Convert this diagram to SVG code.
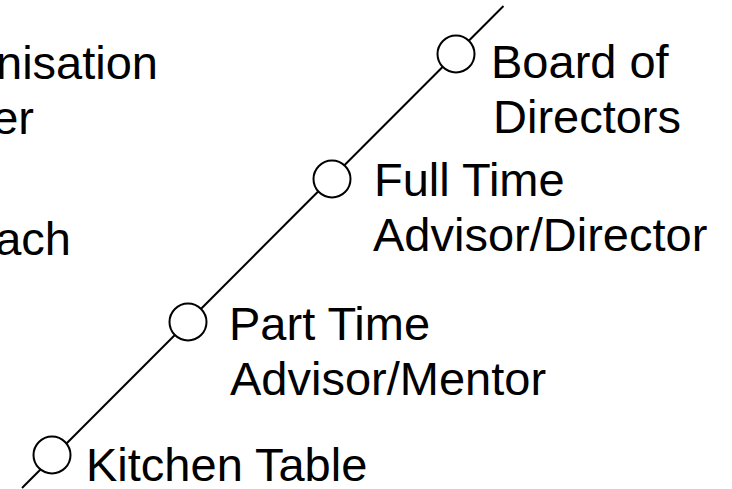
<svg xmlns="http://www.w3.org/2000/svg" width="732" height="489" viewBox="0 0 732 489">
<style>
.t{font-family:"Liberation Sans",Arial,sans-serif;font-size:47px;fill:#000}
.e{text-anchor:end}
.c{fill:#fff;stroke:#000;stroke-width:2}
.l{stroke:#000;stroke-width:2;fill:none}
</style>
<rect width="732" height="489" fill="#fff"/>
<g id="connectors">
<line class="l" x1="503.5" y1="6" x2="22" y2="488"/>
</g>
<g id="left-labels">
<text class="t e" x="158" y="79">nisation</text>
<text class="t e" x="34" y="134">er</text>
<text class="t e" x="71" y="255">ach</text>
</g>
<g id="board">
<circle class="c" cx="456" cy="54" r="18.5"/>
<text class="t" x="491" y="78">Board of</text>
<text class="t" x="493" y="133">Directors</text>
</g>
<g id="fulltime">
<circle class="c" cx="332" cy="179" r="18.5"/>
<text class="t" x="374" y="196">Full Time</text>
<text class="t" x="373" y="251">Advisor/Director</text>
</g>
<g id="parttime">
<circle class="c" cx="188" cy="322" r="18.5"/>
<text class="t" x="229" y="340">Part Time</text>
<text class="t" x="230" y="395">Advisor/Mentor</text>
</g>
<g id="kitchen">
<circle class="c" cx="52" cy="455" r="18.5"/>
<text class="t" x="86" y="481">Kitchen Table</text>
</g>
</svg>
